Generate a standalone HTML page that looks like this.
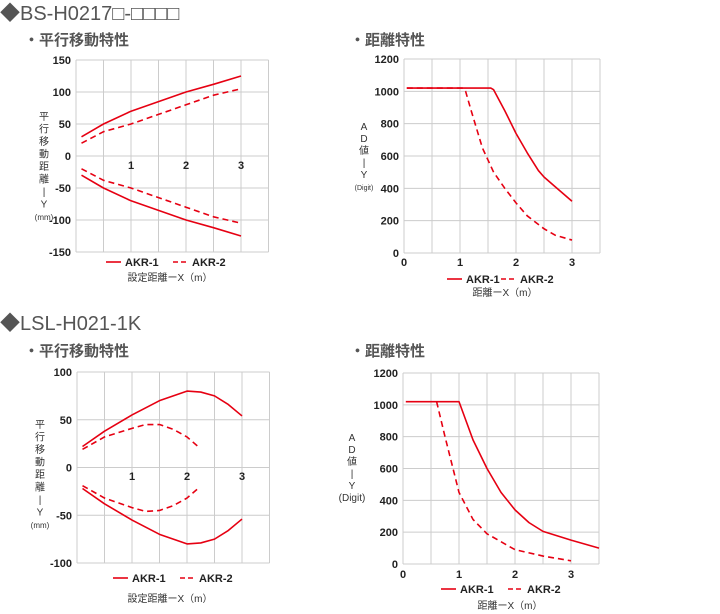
<!DOCTYPE html>
<html><head><meta charset="utf-8">
<style>
body{margin:0;background:#fff;width:720px;height:614px;overflow:hidden;font-family:"Liberation Sans","Noto Sans CJK JP",sans-serif;}
svg{display:block}
</style></head>
<body>
<svg id="s" width="720" height="614" xmlns="http://www.w3.org/2000/svg">
<text x="0" y="20" font-size="20" fill="#555">◆BS-H0217□-□□□□</text>
<text x="24" y="45" font-size="15" font-weight="bold" fill="#555">・平行移動特性</text>
<text x="350" y="45" font-size="15" font-weight="bold" fill="#555">・距離特性</text>
<text x="0" y="330" font-size="20" fill="#555">◆LSL-H021-1K</text>
<text x="24" y="356" font-size="15" font-weight="bold" fill="#555">・平行移動特性</text>
<text x="350" y="356" font-size="15" font-weight="bold" fill="#555">・距離特性</text>
</svg>
<script>
// ---- Chart 1 data ----
const c1Ticks=[150,100,50,0,-50,-100,-150];
const c1XTicks=[1,2,3];
const c1AKR1X=[0.1,0.5,1,1.5,2,2.5,3];
const c1AKR1Up=[30,50,70,85,100,112,125];
const c1AKR1Lo=[-30,-50,-70,-85,-100,-112,-125];
const c1AKR2X=[0.1,0.5,1,1.5,2,2.5,3];
const c1AKR2Up=[20,38,50,65,80,95,105];
const c1AKR2Lo=[-20,-38,-50,-65,-80,-95,-105];
// ---- Chart 2 data ----
const c2Ticks=[1200,1000,800,600,400,200,0];
const c2XTicks=[0,1,2,3];
const c2AKR1X=[0.05,1.55,1.6,1.8,2,2.2,2.4,2.5,2.7,3];
const c2AKR1Y=[1020,1020,1010,880,740,620,510,470,410,320];
const c2AKR2X=[0.05,1.05,1.1,1.2,1.4,1.6,1.8,2,2.2,2.5,2.7,3];
const c2AKR2Y=[1020,1020,1000,880,650,500,400,310,230,150,110,80];
// ---- Chart 3 data ----
const c3Ticks=[100,50,0,-50,-100];
const c3XTicks=[1,2,3];
const c3AKR1X=[0.1,0.5,1,1.5,2,2.25,2.5,2.75,3];
const c3AKR1Up=[22,38,55,70,80,79,75,66,54];
const c3AKR1Lo=[-22,-38,-55,-70,-80,-79,-75,-66,-54];
const c3AKR2X=[0.1,0.5,1,1.25,1.5,1.75,2,2.2];
const c3AKR2Up=[19,32,41,45,45,40,32,22];
const c3AKR2Lo=[-19,-32,-42,-46,-45,-40,-32,-22];
// ---- Chart 4 data ----
const c4Ticks=[1200,1000,800,600,400,200,0];
const c4XTicks=[0,1,2,3];
const c4AKR1X=[0.05,1,1.25,1.5,1.75,2,2.25,2.5,3,3.5];
const c4AKR1Y=[1020,1020,780,600,450,340,260,205,150,100];
const c4AKR2X=[0.6,0.75,1,1.25,1.5,2,2.5,3];
const c4AKR2Y=[1020,800,450,280,190,90,50,20];

const S=document.getElementById('s');
const NS='http://www.w3.org/2000/svg';
const RED='#e60012';
function mk(tag,attrs,parent){const e=document.createElementNS(NS,tag);for(const k in attrs)e.setAttribute(k,attrs[k]);(parent||S).appendChild(e);return e;}
function txt(x,y,s,size,weight,anchor,fill){const t=mk('text',{x:x,y:y,'font-size':size,'font-weight':weight||'normal','text-anchor':anchor||'start',fill:fill||'#333'});t.textContent=s;return t;}

function chart(cfg){
  const xs=v=>cfg.x0+v*cfg.px;
  const ys=v=>cfg.top+(cfg.ymax-v)/(cfg.ymax-cfg.ymin)*(cfg.bot-cfg.top);
  const g=mk('g',{});
  
  
  for(let i=0;i<=cfg.nv;i++){const x=cfg.x0+i*cfg.px/2;
    const l=mk('line',{x1:x,x2:x,y1:cfg.top,y2:cfg.bot,stroke:'#ccc','stroke-width':1},g);
    
    }
  cfg.yt.forEach(v=>{const y=ys(v);
    const l=mk('line',{x1:cfg.x0,x2:cfg.x0+cfg.nv*cfg.px/2,y1:y,y2:y,stroke:'#ccc','stroke-width':1},g);
    
    
    const t=txt(cfg.x0-5,y+4,String(v),11,'bold','end','#222');
    
    });
  cfg.xt.forEach(v=>{
    const t=txt(xs(v),cfg.xly,String(v),11,'bold','middle','#222');
    
    });
  cfg.series.forEach(s=>{
    const pts=s.x.map((xv,i)=>xs(xv)+','+ys(s.y[i])).join(' ');
    const p=mk('polyline',{points:pts,fill:'none',stroke:RED,'stroke-width':1.6,'stroke-linejoin':'round'},g);
    if(s.dash)p.setAttribute('stroke-dasharray','6,4');
    
    });
  // legend
  const lg=cfg.leg;
  const l1=mk('line',{x1:lg.x,x2:lg.x+15,y1:lg.y-4,y2:lg.y-4,stroke:RED,'stroke-width':1.6},g);
  
  
  const t1=txt(lg.x+19,lg.y,'AKR-1',11,'bold','start','#222');
  
  
  const l2=mk('line',{x1:lg.x2,x2:lg.x2+15,y1:lg.y-4,y2:lg.y-4,stroke:RED,'stroke-width':1.6,'stroke-dasharray':'5,3'},g);
  
  
  const t2=txt(lg.x2+19,lg.y,'AKR-2',11,'bold','start','#222');
  
  
  const xt=txt(cfg.xtitle[1],cfg.xtitle[2],cfg.xtitle[0],10,'normal','middle','#333');
  
  
  cfg.ytitle.chars.forEach((c,i)=>{
    const t=txt(cfg.ytitle.x,cfg.ytitle.y+i*cfg.ytitle.step,c,c.length>1?(cfg.ytitle.small||8):10,'normal','middle','#333');
    
    });
}

chart({name:'chart1',x0:76,px:55,nv:7,top:60,bot:252,ymax:150,ymin:-150,yt:c1Ticks,xt:c1XTicks,xly:169,
  series:[{x:c1AKR1X,y:c1AKR1Up,name:'akr1-upper'},{x:c1AKR1X,y:c1AKR1Lo,name:'akr1-lower'},
          {x:c1AKR2X,y:c1AKR2Up,dash:1,name:'akr2-upper'},{x:c1AKR2X,y:c1AKR2Lo,dash:1,name:'akr2-lower'}],
  leg:{x:106,x2:173,y:266},xtitle:['設定距離ーX（m）',170,281],
  ytitle:{x:44,y:120,step:12.5,chars:['平','行','移','動','距','離','|','Y','(mm)'],small:8}});

chart({name:'chart2',x0:404,px:56,nv:7,top:59,bot:253,ymax:1200,ymin:0,yt:c2Ticks,xt:c2XTicks,xly:266,
  series:[{x:c2AKR1X,y:c2AKR1Y,name:'akr1-line'},{x:c2AKR2X,y:c2AKR2Y,dash:1,name:'akr2-line'}],
  leg:{x:447,x2:501,y:283},xtitle:['距離ーX（m）',505,296],
  ytitle:{x:364,y:130,step:12,chars:['A','D','値','|','Y','(Digit)'],small:7}});

chart({name:'chart3',x0:77,px:55,nv:7,top:372,bot:563,ymax:100,ymin:-100,yt:c3Ticks,xt:c3XTicks,xly:480,
  series:[{x:c3AKR1X,y:c3AKR1Up,name:'akr1-upper'},{x:c3AKR1X,y:c3AKR1Lo,name:'akr1-lower'},
          {x:c3AKR2X,y:c3AKR2Up,dash:1,name:'akr2-upper'},{x:c3AKR2X,y:c3AKR2Lo,dash:1,name:'akr2-lower'}],
  leg:{x:113,x2:180,y:582},xtitle:['設定距離ーX（m）',170,602],
  ytitle:{x:40,y:428,step:12.5,chars:['平','行','移','動','距','離','|','Y','(mm)'],small:8}});

chart({name:'chart4',x0:403,px:56,nv:7,top:373,bot:564,ymax:1200,ymin:0,yt:c4Ticks,xt:c4XTicks,xly:578,
  series:[{x:c4AKR1X,y:c4AKR1Y,name:'akr1-line'},{x:c4AKR2X,y:c4AKR2Y,dash:1,name:'akr2-line'}],
  leg:{x:441,x2:508,y:593},xtitle:['距離ーX（m）',510,609],
  ytitle:{x:352,y:441,step:12,chars:['A','D','値','|','Y','(Digit)'],small:10}});
</script>
</body></html>
